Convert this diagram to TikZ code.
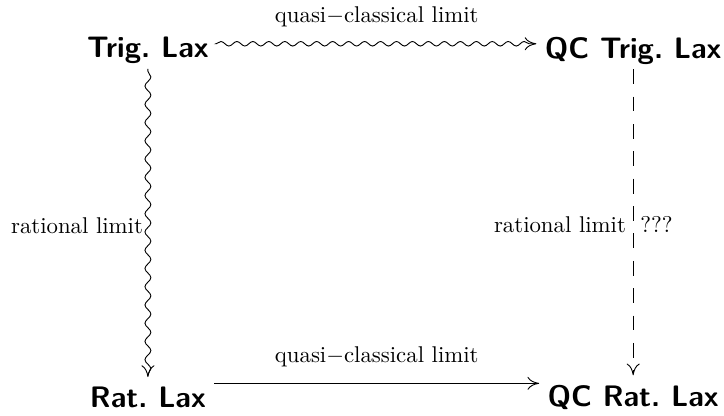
\documentclass[tikz,border=0pt]{standalone}
\usetikzlibrary{arrows.meta, positioning, decorations.pathmorphing}

\tikzset{
  lax/.style={font=\fontsize{13}{15}\selectfont\sffamily\bfseries, inner sep=2pt},
  lim/.style={font=\normalsize, inner sep=2pt},
  squig/.style={decorate, decoration={snake, amplitude=1pt, segment length=7pt,
      pre length=1pt, post length=3pt}},
  squigv/.style={decorate, decoration={snake, amplitude=1.3pt, segment length=8pt,
      pre length=1pt, post length=3pt}},
  dashv/.style={dash pattern=on 6.5pt off 5.5pt},
}

\begin{document}
\begin{tikzpicture}[>={Computer Modern Rightarrow[length=1.8mm, width=2mm]}]

  % Frame
  \useasboundingbox (0,0) rectangle (11.16,6.40);

  \def\xl{2.28}
  \def\xr{9.76}
  \def\yt{5.62}
  \def\yb{0.28}

  % === Corners ===
  \node[lax] (trig)   at (\xl,\yt) {Trig.\ Lax};
  \node[lax] (qctrig) at (\xr,\yt) {QC Trig.\ Lax};
  \node[lax] (rat)    at (\xl,\yb) {Rat.\ Lax};
  \node[lax] (qcrat)  at (\xr,\yb) {QC Rat.\ Lax};

  % === Top: quasi-classical limit (squiggly) ===
  \draw[->, squig, shorten <=1.5pt, shorten >=1.5pt]
    ([yshift=3pt]trig.east) -- ([yshift=3pt]qctrig.west)
    node[lim, midway, above=5pt] (qtop) {quasi$-$classical limit};

  % === Bottom: quasi-classical limit ===
  \draw[->, shorten <=1.5pt, shorten >=1.5pt]
    ([yshift=6pt]rat.east) -- ([yshift=6pt]qcrat.west)
    node[lim, midway, above=5pt] (qbot) {quasi$-$classical limit};

  % === Left: rational limit (squiggly) ===
  \draw[->, squigv, shorten >=2pt] (trig.south) -- (rat.north)
    node[lim, midway, left] (rleft) {rational limit};

  % === Right: rational limit ??? (dashed) ===
  \draw[->, dashv, shorten >=2pt] (qctrig.south) -- (qcrat.north)
    node[lim, midway, left=1pt] (rright) {rational limit}
    node[lim, midway, right=1pt] (qmark) {???};

\end{tikzpicture}
\end{document}
